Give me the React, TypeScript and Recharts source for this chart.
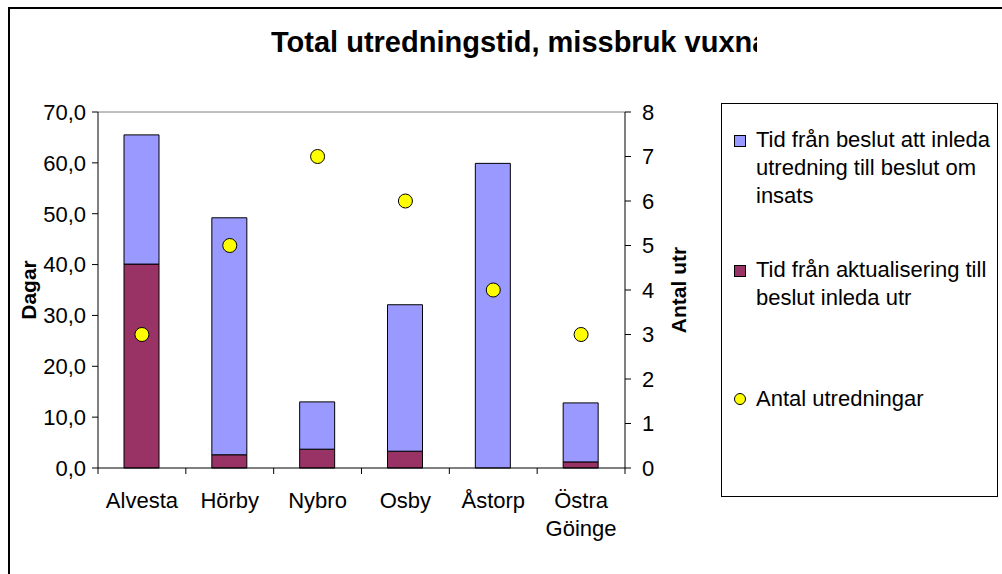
import React from 'react';
import {
    ComposedChart, Bar, Scatter, XAxis, YAxis, ReferenceLine, Legend,
} from 'recharts';

const categories = ['Alvesta', 'Hörby', 'Nybro', 'Osby', 'Åstorp', 'Östra Göinge'];
const aktualisering = [40.1, 2.6, 3.7, 3.3, 0, 1.2];
const beslut = [25.4, 46.6, 9.3, 28.8, 59.9, 11.6];
const antal = [3, 5, 7, 6, 4, 3];

const leftTicks = [0, 10, 20, 30, 40, 50, 60, 70];
const rightTicks = [0, 1, 2, 3, 4, 5, 6, 7, 8];

const legendItems = [
    { lines: ['Tid från beslut att inleda', 'utredning till beslut om', 'insats'], color: '#9999FF', kind: 'square' },
    { lines: ['Tid från aktualisering till', 'beslut inleda utr'], color: '#993366', kind: 'square' },
    { lines: ['Antal utredningar'], color: '#FFFF00', kind: 'circle' },
];

const data = categories.map((name, i) => ({
    name,
    aktualisering: aktualisering[i],
    beslut: beslut[i],
    antal: antal[i],
}));

const FONT = '"Liberation Sans", Arial, sans-serif';
const W = 1002;
const H = 574;
const MARGIN = { top: 112, right: 307, bottom: 36, left: 28 };
const Y_W = 70;
const HALF_BAND = (W - MARGIN.left - MARGIN.right - 2 * Y_W) / categories.length / 2;

function XTick(props: any) {
    const { x, y, payload, index } = props;
    const lines = String(payload.value).split(' ');
    return <g>
        <line x1={x - HALF_BAND} x2={x - HALF_BAND} y1={y} y2={y + 6} stroke="#000" />
        {index === categories.length - 1 &&
            <line x1={x + HALF_BAND} x2={x + HALF_BAND} y1={y} y2={y + 6} stroke="#000" />}
        <text x={x} y={y + 40} textAnchor="middle" fontSize={22} fontFamily={FONT} fill="#000">
            {lines.map((l, i) => <tspan key={i} x={x} dy={i === 0 ? 0 : 28}>{l}</tspan>)}
        </text>
    </g>;
}

function AxisTitle(dx: number, text: string) {
    return (props: any) => {
        const vb = props.viewBox;
        const x = vb.x + dx;
        const y = vb.y + vb.height / 2;
        return <text x={x} y={y} transform={`rotate(-90, ${x}, ${y})`} textAnchor="middle"
            dominantBaseline="central" fontSize={21} fontWeight="bold" fontFamily={FONT} fill="#000">
            {text}
        </text>;
    };
}

function Dot(props: any) {
    return <circle cx={props.cx} cy={props.cy} r={7} fill="#FFFF00" stroke="#000" strokeWidth={1} />;
}

function LegendBox() {
    const tops = [22, 152, 281];
    return <div style={{
        position: 'relative', width: 277, height: 394, border: '1px solid #000',
        background: '#fff', fontFamily: FONT, fontSize: 22, lineHeight: '28px', color: '#000',
        overflow: 'hidden', boxSizing: 'border-box',
    }}>
        {legendItems.map((item, i) => <div key={i} style={{ position: 'absolute', left: 0, top: tops[i] }}>
            {item.kind === 'square'
                ? <div style={{ position: 'absolute', left: 12, top: 9, width: 10, height: 10, background: item.color, border: '1px solid #000' }} />
                : <div style={{ position: 'absolute', left: 12, top: 8, width: 10, height: 10, borderRadius: '50%', background: item.color, border: '1px solid #000' }} />}
            <div style={{ position: 'absolute', left: 34, top: 0, whiteSpace: 'nowrap' }}>
                {item.lines.map((l, j) => <div key={j}>{l}</div>)}
            </div>
        </div>)}
    </div>;
}

export default function App() {
    return <div style={{ position: 'absolute', left: 0, top: 0, width: W, height: H, overflow: 'hidden', background: '#fff' }}>
        <div style={{
            position: 'absolute', left: 8, top: 7, width: 1010, height: 600,
            borderLeft: '2px solid #000', borderTop: '2px solid #000',
        }} />
        <div style={{
            position: 'absolute', left: 271, top: 26, width: 486, overflow: 'hidden', whiteSpace: 'nowrap',
            fontFamily: FONT, fontWeight: 'bold', fontSize: 29, color: '#000',
        }}>
            Total utredningstid, missbruk vuxna
        </div>
        <div style={{ position: 'absolute', left: 0, top: 0 }}>
            <ComposedChart width={W} height={H} data={data} margin={MARGIN}>
                <XAxis dataKey="name" xAxisId="x" height={70} tickLine={false} tickSize={0} tickMargin={0}
                    axisLine={{ stroke: '#000' }} tick={<XTick />} interval={0} />
                <YAxis yAxisId="left" width={Y_W} domain={[0, 70]} ticks={leftTicks} interval={0}
                    tickFormatter={(v: number) => v.toFixed(1).replace('.', ',')}
                    tickSize={6} tickMargin={6} axisLine={{ stroke: '#000' }} tickLine={{ stroke: '#000' }}
                    tick={{ fill: '#000', fontSize: 22, fontFamily: FONT }}
                    label={{ content: AxisTitle(0, 'Dagar') }} />
                <YAxis yAxisId="right" orientation="right" width={Y_W} domain={[0, 8]} ticks={rightTicks} interval={0}
                    tickSize={6} tickMargin={11} axisLine={{ stroke: '#000' }} tickLine={{ stroke: '#000' }}
                    tick={{ fill: '#000', fontSize: 22, fontFamily: FONT }}
                    label={{ content: AxisTitle(53, 'Antal utr') }} />
                <ReferenceLine yAxisId="left" xAxisId="x" y={70} stroke="#808080" />
                <Bar xAxisId="x" yAxisId="left" dataKey="aktualisering" stackId="s" fill="#993366" stroke="#000"
                    barSize={35} isAnimationActive={false} />
                <Bar xAxisId="x" yAxisId="left" dataKey="beslut" stackId="s" fill="#9999FF" stroke="#000"
                    barSize={35} isAnimationActive={false} />
                <Scatter xAxisId="x" yAxisId="right" dataKey="antal" shape={<Dot />} isAnimationActive={false} />
                <Legend layout="vertical" align="center" verticalAlign="middle"
                    wrapperStyle={{ position: 'absolute', left: 721, top: 103, width: 277, height: 394 }}
                    content={() => <LegendBox />} />
            </ComposedChart>
        </div>
    </div>;
}
